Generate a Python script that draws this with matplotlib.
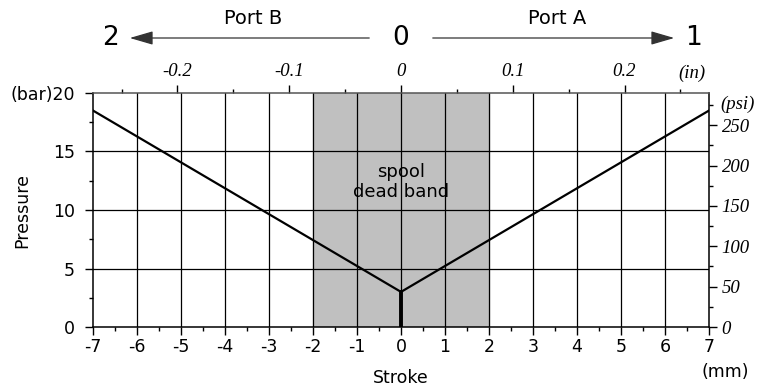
import matplotlib
matplotlib.use("Agg")
import matplotlib.pyplot as plt
from matplotlib.patches import FancyArrowPatch

# chart data
stroke_mm = [-7, 0, 7]
pressure_bar = [18.5, 3, 18.5]
zero_stroke = [0, 0]
zero_pressure = [0, 3]
dead_band = [-2, 2]
x_ticks = list(range(-7, 8))
y_ticks = [0, 5, 10, 15, 20]
y_labels = ['0', '5', '10', '15', '(bar)20']
in_ticks = [-0.2, -0.1, 0, 0.1, 0.2]
in_labels = ['-0.2', '-0.1', '0', '0.1', '0.2']
psi_ticks = [0, 50, 100, 150, 200, 250]

MM_PER_IN = 25.4
PSI_PER_BAR = 14.5038

plt.rcParams['font.family'] = 'DejaVu Sans'
plt.rcParams['axes.unicode_minus'] = False
ital = dict(family='Liberation Serif', style='italic', size=13.5)

fig = plt.figure(figsize=(7.58, 3.91), dpi=100)
ax = fig.add_axes([93/758, 1 - 327/391, 616/758, 234/391])

ax.axvspan(dead_band[0], dead_band[1], color='#c0c0c0', zorder=0)
for x in x_ticks[1:-1]:
    ax.axvline(x, color='black', lw=0.9, zorder=1)
for y in y_ticks[1:-1]:
    ax.axhline(y, color='black', lw=0.9, zorder=1)

ax.plot(stroke_mm, pressure_bar, color='black', lw=1.6, zorder=3)
ax.plot(zero_stroke, zero_pressure, color='black', lw=2.8, zorder=3)

ax.text(0, 12.4, 'spool\ndead band', ha='center', va='center', fontsize=13,
        linespacing=1.2)

ax.set_xlim(-7, 7)
ax.set_ylim(0, 20)
ax.set_xticks(x_ticks)
ax.set_xticks([x + 0.5 for x in x_ticks[:-1]], minor=True)
ax.set_yticks(y_ticks)
ax.set_yticklabels(y_labels)
ax.set_yticks([2.5, 7.5, 12.5, 17.5], minor=True)
ax.tick_params(labelsize=12.5, length=6, width=1, direction='out', pad=2)
ax.tick_params(which='minor', length=3, width=1)
ax.tick_params(axis='y', pad=7)
for s in ax.spines.values():
    s.set_linewidth(1.1)
ax.spines['top'].set_color('#555555')

ax.set_xlabel('Stroke', fontsize=12.5, labelpad=9)
fig.text(22/758, 1 - 210/391, 'Pressure', ha='center', va='center',
         rotation=90, fontsize=12.5)
fig.text(725/758, 1 - 372/391, '(mm)', ha='center', va='center', fontsize=12.5)

# inch scale on top
top = ax.secondary_xaxis('top', functions=(lambda v: v / MM_PER_IN, lambda v: v * MM_PER_IN))
top.set_xticks(in_ticks)
top.set_xticklabels(in_labels, **ital)
top.set_xticks([-0.25, -0.15, -0.05, 0.05, 0.15, 0.25], minor=True)
top.tick_params(length=6, width=1, pad=3)
top.tick_params(which='minor', length=3, width=1)
top.spines['top'].set_visible(False)
fig.text(692/758, 1 - 73/391, '(in)', ha='center', va='center', **ital)

# psi scale on right
right = ax.secondary_yaxis('right', functions=(lambda v: v * PSI_PER_BAR, lambda v: v / PSI_PER_BAR))
right.set_yticks(psi_ticks)
right.set_yticklabels([str(p) for p in psi_ticks], **ital)
right.set_yticks([25, 75, 125, 175, 225, 275], minor=True)
right.tick_params(length=6, width=1, pad=3)
right.tick_params(which='minor', length=3, width=1)
right.spines['right'].set_visible(False)
fig.text(738/758, 1 - 104/391, '(psi)', ha='center', va='center', **ital)

# port arrows
arrow_y = 1 - 38/391
for label, xpix in [('2', 110), ('0', 401), ('1', 693)]:
    fig.text(xpix/758, arrow_y, label, ha='center', va='center', fontsize=19)
style = '-|>,head_length=1.2,head_width=0.35'
fig.add_artist(FancyArrowPatch((372/758, arrow_y), (127/758, arrow_y),
                               transform=fig.transFigure, arrowstyle=style,
                               color='#333333', lw=0.9, mutation_scale=12))
fig.add_artist(FancyArrowPatch((430/758, arrow_y), (677/758, arrow_y),
                               transform=fig.transFigure, arrowstyle=style,
                               color='#333333', lw=0.9, mutation_scale=12))
fig.text(253/758, 1 - 18/391, 'Port B', ha='center', va='center', fontsize=14)
fig.text(557/758, 1 - 18/391, 'Port A', ha='center', va='center', fontsize=14)

fig.savefig('out.png', dpi=100)
